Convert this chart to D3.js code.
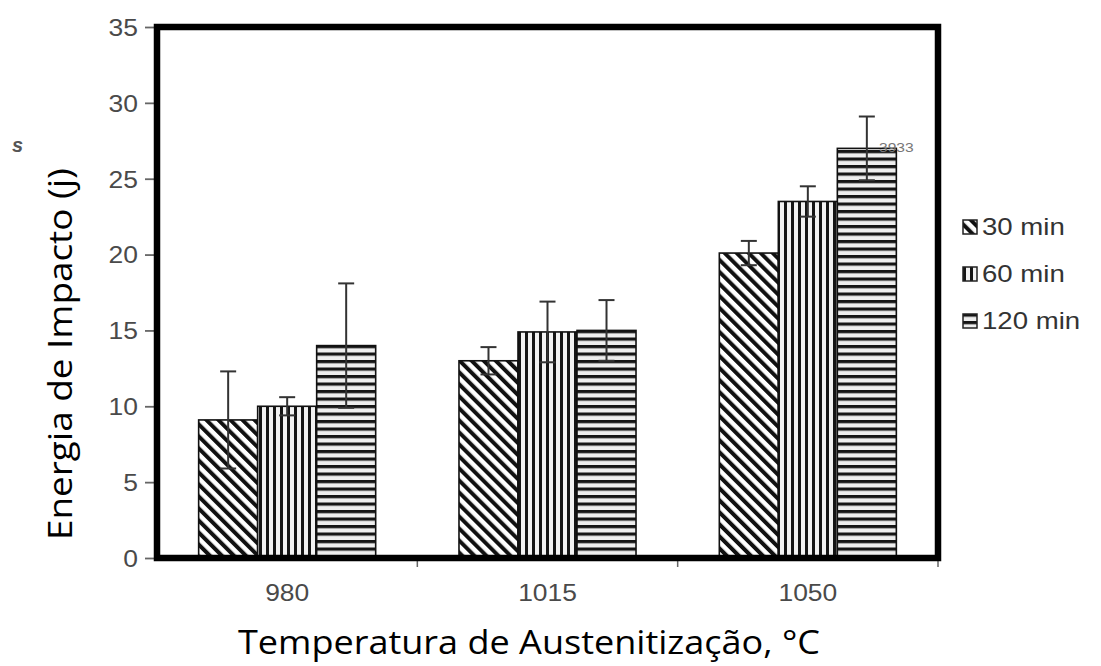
<!DOCTYPE html>
<html>
<head>
<meta charset="utf-8">
<script src="https://cdn.jsdelivr.net/npm/d3@7"></script>
<style>
  html, body { margin: 0; padding: 0; background: #fff; }
  svg { display: block; }
</style>
</head>
<body>
<svg id="chart" width="1101" height="666"></svg>
<script>
// Austenitizing temperature groups
const temperatures = ["980", "1015", "1050"];
// Holding times (series)
const holdTimes = ["30 min", "60 min", "120 min"];
// Mean impact energy (J) per temperature, one array per holding time
const energy30 = [9.1, 13.0, 20.1];
const energy60 = [10.0, 14.9, 23.5];
const energy120 = [14.0, 15.0, 27.0];
// Standard deviation for each bar
const err30 = [3.2, 0.9, 0.8];
const err60 = [0.6, 2.0, 1.0];
const err120 = [4.1, 2.0, 2.1];
// Y axis ticks
const yTicks = [0, 5, 10, 15, 20, 25, 30, 35];

const seriesValues = [energy30, energy60, energy120];
const seriesErrors = [err30, err60, err120];
const patternIds = ["pat-diag", "pat-vert", "pat-horz"];

const svg = d3.select("#chart");
const plotL = 157, plotR = 938, plotT = 27, plotB = 558;

const x = d3.scaleBand().domain(temperatures).range([plotL, plotR]).padding(0);
const bw = x.bandwidth();
const xs = d3.scaleBand().domain(holdTimes).range([bw * 0.16, bw * 0.84]).padding(0);
const y = d3.scaleLinear().domain([0, 35]).range([plotB, plotT]);

// Fill patterns
const defs = svg.append("defs");
const pDiag = defs.append("pattern").attr("id", "pat-diag")
  .attr("patternUnits", "userSpaceOnUse").attr("width", 8.5).attr("height", 8.5)
  .attr("patternTransform", "rotate(-45)");
pDiag.append("rect").attr("width", 8.5).attr("height", 8.5).attr("fill", "#fff");
pDiag.append("rect").attr("width", 4).attr("height", 8.5).attr("fill", "#111");

const pVert = defs.append("pattern").attr("id", "pat-vert")
  .attr("patternUnits", "userSpaceOnUse").attr("width", 7).attr("height", 7);
pVert.append("rect").attr("width", 7).attr("height", 7).attr("fill", "#f2f2f2");
pVert.append("rect").attr("width", 3).attr("height", 7).attr("fill", "#151515");

const pHorz = defs.append("pattern").attr("id", "pat-horz")
  .attr("patternUnits", "userSpaceOnUse").attr("width", 7.5).attr("height", 7.5);
pHorz.append("rect").attr("width", 7.5).attr("height", 7.5).attr("fill", "#eee");
pHorz.append("rect").attr("width", 7.5).attr("height", 3.2).attr("fill", "#151515");

// Bars
const rows = [];
temperatures.forEach((t, i) => {
  holdTimes.forEach((h, j) => {
    rows.push({ t, h, j, v: seriesValues[j][i], e: seriesErrors[j][i] });
  });
});

const barG = svg.append("g");
barG.selectAll("rect").data(rows).join("rect")
  .attr("x", d => x(d.t) + xs(d.h))
  .attr("y", d => y(d.v))
  .attr("width", xs.bandwidth())
  .attr("height", d => y(0) - y(d.v))
  .attr("fill", d => `url(#${patternIds[d.j]})`)
  .attr("stroke", "#111")
  .attr("stroke-width", 1.6);

// Error bars
const capW = 8;
const errG = svg.append("g").attr("stroke", "#333").attr("stroke-width", 2).attr("fill", "none");
rows.forEach(d => {
  const cx = x(d.t) + xs(d.h) + xs.bandwidth() / 2;
  const y1 = y(d.v + d.e), y2 = y(d.v - d.e);
  errG.append("line").attr("x1", cx).attr("x2", cx).attr("y1", y1).attr("y2", y2);
  errG.append("line").attr("x1", cx - capW).attr("x2", cx + capW).attr("y1", y1).attr("y2", y1);
  errG.append("line").attr("x1", cx - capW).attr("x2", cx + capW).attr("y1", y2).attr("y2", y2);
});

// Y axis ticks and labels
const yAxis = d3.axisLeft(y).tickValues(yTicks).tickSize(10).tickPadding(6);
const yg = svg.append("g").attr("transform", `translate(${plotL - 2},0)`).call(yAxis);
yg.select(".domain").remove();
yg.selectAll(".tick line").attr("stroke", "#666").attr("stroke-width", 1.8);
yg.selectAll(".tick text")
  .attr("fill", "#4a4a4a").attr("font-family", "Liberation Sans, Arial, sans-serif")
  .attr("font-size", 23)
  .attr("transform", "scale(1.15,1)")
  .attr("x", -17 / 1.15)
  .attr("dy", "0.36em");

// X axis: group boundary ticks and labels
const xBounds = [plotL + bw, plotL + 2 * bw, plotR];
svg.append("g").selectAll("line").data(xBounds).join("line")
  .attr("x1", d => d).attr("x2", d => d)
  .attr("y1", plotB + 3).attr("y2", plotB + 9)
  .attr("stroke", "#666").attr("stroke-width", 1.5);
svg.append("g").selectAll("text").data(temperatures).join("text")
  .attr("transform", d => `translate(${x(d) + bw / 2},${601}) scale(1.1,1)`)
  .attr("text-anchor", "middle")
  .attr("fill", "#4a4a4a").attr("font-family", "Liberation Sans, Arial, sans-serif")
  .attr("font-size", 24)
  .text(d => d);

// Plot frame
svg.append("rect")
  .attr("x", plotL).attr("y", plotT).attr("width", plotR - plotL).attr("height", plotB - plotT)
  .attr("fill", "none").attr("stroke", "#000").attr("stroke-width", 6.5);

// Stray label near the tallest bar
svg.append("text")
  .attr("transform", "translate(879,152) scale(1.2,1)")
  .attr("fill", "#777").attr("font-family", "Liberation Sans, Arial, sans-serif")
  .attr("font-size", 13).text("3933");

// Small mark at far left
svg.append("text")
  .attr("x", 12).attr("y", 152)
  .attr("fill", "#555").attr("font-family", "Liberation Sans, Arial, sans-serif")
  .attr("font-style", "italic").attr("font-weight", "bold")
  .attr("font-size", 20).text("s");

// Legend
const legY = [227, 274, 321];
const leg = svg.append("g");
holdTimes.forEach((h, j) => {
  const g = leg.append("g").attr("transform", `translate(963,${legY[j]})`);
  g.append("rect").attr("x", 0).attr("y", -7).attr("width", 14).attr("height", 14)
    .attr("fill", `url(#${patternIds[j]})`).attr("stroke", "#222").attr("stroke-width", 1.5);
  g.append("text")
    .attr("transform", "translate(19,0) scale(1.2,1)")
    .attr("dy", "0.36em")
    .attr("fill", "#333").attr("font-family", "Liberation Sans, Arial, sans-serif")
    .attr("font-size", 23).text(h);
});

// Axis titles
svg.append("text")
  .attr("transform", `translate(72,354) rotate(-90)`)
  .attr("text-anchor", "middle")
  .attr("fill", "#000").attr("font-family", "Open Sans, Noto Sans, sans-serif")
  .attr("font-size", 33)
  .attr("textLength", 372).attr("lengthAdjust", "spacingAndGlyphs")
  .text("Energia de Impacto (j)");

svg.append("text")
  .attr("x", 529).attr("y", 654)
  .attr("text-anchor", "middle")
  .attr("fill", "#000").attr("font-family", "Open Sans, Noto Sans, sans-serif")
  .attr("font-size", 32)
  .attr("textLength", 582).attr("lengthAdjust", "spacingAndGlyphs")
  .text("Temperatura de Austenitização, °C");
</script>
</body>
</html>
